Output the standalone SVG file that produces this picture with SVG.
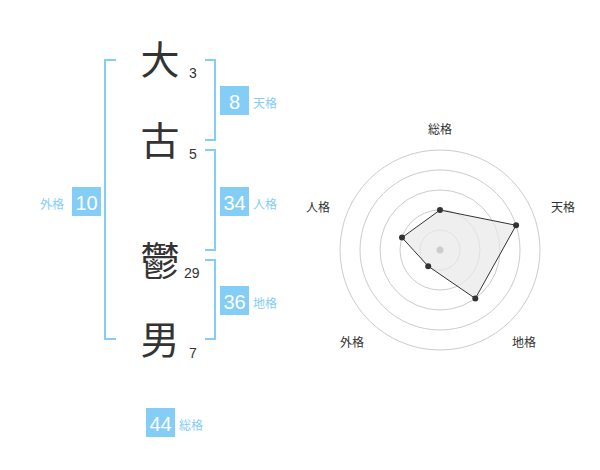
<svg xmlns="http://www.w3.org/2000/svg" width="600" height="470" viewBox="0 0 600 470">
<style>
.ch{font-family:"Noto Sans CJK JP","Noto Sans CJK SC",sans-serif;font-size:39px;fill:#333;text-anchor:middle}
.num{font-family:"Liberation Sans",Arial,sans-serif;font-size:14px;fill:#333}
.br{fill:none;stroke:#84cdf7;stroke-width:2}
.box{fill:#84cdf7}
.bn{font-family:"Liberation Sans",Arial,sans-serif;font-size:20px;fill:#fff;text-anchor:middle}
.lb{font-family:"Noto Sans CJK JP","Noto Sans CJK SC",sans-serif;font-size:12px;fill:#84cdf7}
.ring{fill:none;stroke:#ccc;stroke-width:1}
.rl{font-family:"Noto Sans CJK JP","Noto Sans CJK SC",sans-serif;font-size:12px;fill:#333;text-anchor:middle}
.pt{fill:#333}
</style>
<g id="name">
<g id="c1"><text class="ch" x="160" y="74">大</text><text class="num" x="189" y="78">3</text></g>
<g id="c2"><text class="ch" x="160" y="155">古</text><text class="num" x="189" y="159">5</text></g>
<g id="c3"><text class="ch" x="160" y="275">鬱</text><text class="num" x="184" y="278">29</text></g>
<g id="c4"><text class="ch" x="160" y="354">男</text><text class="num" x="189" y="358">7</text></g>
</g>
<g id="connectors">
<path class="br" d="M116,60 H105 V339 H116"/>
<path class="br" d="M205,60 H215 V140 H205"/>
<path class="br" d="M205,150 H215 V250 H205"/>
<path class="br" d="M205,260 H215 V339 H205"/>
</g>
<g id="tenkaku"><rect class="box" x="220" y="86" width="29" height="29"/><text class="bn" x="234.5" y="109">8</text><text class="lb" x="253" y="108">天格</text></g>
<g id="jinkaku"><rect class="box" x="220" y="187" width="29" height="29"/><text class="bn" x="234.5" y="210">34</text><text class="lb" x="253" y="209">人格</text></g>
<g id="chikaku"><rect class="box" x="220" y="286" width="29" height="29"/><text class="bn" x="234.5" y="309">36</text><text class="lb" x="253" y="308">地格</text></g>
<g id="gaikaku"><rect class="box" x="72" y="187" width="29" height="29"/><text class="bn" x="86.5" y="210">10</text><text class="lb" x="40" y="209">外格</text></g>
<g id="soukaku"><rect class="box" x="146" y="408" width="29" height="29"/><text class="bn" x="160.5" y="431">44</text><text class="lb" x="179" y="430">総格</text></g>
<g id="radar">
<circle class="ring" cx="440" cy="250" r="20"/>
<circle class="ring" cx="440" cy="250" r="40"/>
<circle class="ring" cx="440" cy="250" r="60"/>
<circle class="ring" cx="440" cy="250" r="80"/>
<circle class="ring" cx="440" cy="250" r="100"/>
<polygon points="440,210 516.1,225.3 475.3,298.5 428.2,266.2 402,237.6" fill="#e8e8e8" fill-opacity="0.7" stroke="#333" stroke-width="1"/>
<circle cx="440" cy="250" r="3.5" fill="#ccc"/>
<circle class="pt" cx="440" cy="210" r="3"/>
<circle class="pt" cx="516.1" cy="225.3" r="3"/>
<circle class="pt" cx="475.3" cy="298.5" r="3"/>
<circle class="pt" cx="428.2" cy="266.2" r="3"/>
<circle class="pt" cx="402" cy="237.6" r="3"/>
<text class="rl" x="440" y="134">総格</text>
<text class="rl" x="563" y="212">天格</text>
<text class="rl" x="524" y="347">地格</text>
<text class="rl" x="352" y="347">外格</text>
<text class="rl" x="318" y="212">人格</text>
</g>
</svg>
